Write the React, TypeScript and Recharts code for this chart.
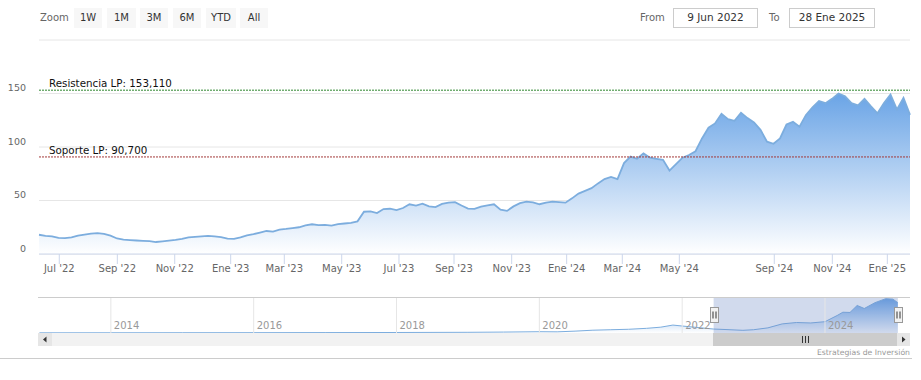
import React from "react"
import {
  AreaChart,
  Area,
  XAxis,
  YAxis,
  CartesianGrid,
  ReferenceLine,
  ReferenceArea,
} from "recharts"

const FONT = "'DejaVu Sans', Verdana, sans-serif"

// weekly closes, 9 Jun 2022 .. 28 Ene 2025 (ordinal axis, gap in summer 2024)
const prices = [
  18, 17, 16.5, 15, 14.8, 15.5, 17.2, 18.2, 19, 19.5,
  18.8, 17.2, 14.5, 13.5, 13, 12.6, 12.3, 12.1, 11.2, 11.8,
  12.5, 13.2, 14.2, 15.5, 16, 16.4, 16.9, 16.5, 15.8, 14.3,
  14.2, 15.5, 17.5, 18.6, 20, 21.5, 21, 22.8, 23.4, 24.2,
  25, 26.8, 27.8, 27, 27.2, 26.5, 28, 28.5, 29, 30.5,
  39.5, 39.8, 38.2, 42, 42.3, 41, 43, 46.5, 45.3, 47,
  44.5, 43.8, 46.8, 48, 48.5, 45.3, 42.5, 42.2, 44.2, 45.5,
  46.5, 41.5, 40.3, 44.5, 47.5, 49, 48.2, 46.5, 48, 49,
  48.5, 48, 52, 56.5, 59, 61.5, 66, 70, 72, 70,
  85, 91, 89, 94, 90, 89, 88, 78, 84, 90,
  92.5, 96, 108, 118, 122, 131, 126, 124.5, 132, 127,
  123, 116, 105, 103, 108, 121, 123.5, 119, 130, 137,
  143, 141, 145, 150, 147.5, 141, 139, 145, 138, 131.5,
  141, 149, 135, 146, 130,
]

// month ticks: position on the weekly index, and label
const tickIdx = [3.12, 12.05, 20.88, 29.49, 37.74, 46.57, 55.38, 63.85, 72.72, 81.18, 89.74, 98.51, 113.12, 122.05, 130.51]
const tickLabels = [
  "Jul '22", "Sep '22", "Nov '22", "Ene '23", "Mar '23", "May '23", "Jul '23", "Sep '23",
  "Nov '23", "Ene '24", "Mar '24", "May '24", "Sep '24", "Nov '24", "Ene '25",
]
const yTicks = [0, 50, 100, 150, 200]

const resistance = 153.11
const support = 90.7

// navigator: whole history
const navYears = [
  2013, 2014, 2015, 2016, 2017, 2018, 2019, 2019.5, 2020, 2020.25, 2020.5, 2020.75,
  2021, 2021.25, 2021.5, 2021.7, 2021.87, 2022, 2022.2, 2022.44, 2022.6, 2022.85,
  2023, 2023.2, 2023.4, 2023.6, 2023.8, 2024, 2024.17, 2024.25, 2024.35, 2024.45,
  2024.55, 2024.7, 2024.85, 2024.95, 2025.02,
]
const navPrices = [
  0.8, 1, 1.2, 1.4, 1.8, 2.2, 3, 4, 5.5, 5, 8, 12,
  14, 16, 20, 25, 34, 30, 24, 17, 15, 11.5,
  14, 22, 39, 45, 43, 48.5, 75, 89, 88, 118,
  105, 130, 147, 145, 130,
]
const yearTicks = [2014, 2016, 2018, 2020, 2022, 2024]
const selStart = 2022.44
const selEnd = 2025.02

const zoomButtons = ["1W", "1M", "3M", "6M", "YTD", "All"]
const rangeFrom = "9 Jun 2022"
const rangeTo = "28 Ene 2025"

const data = prices.map((v, i) => ({ i, v }))
const navData = navYears.map((y, k) => ({ y, v: navPrices[k] }))

const fmt = (n: number) => n.toFixed(3).replace(".", ",")

function YTick({ y, payload }: any) {
  if (payload.value === 200) return <g />
  return (
    <text x={26} y={y - 2.5} textAnchor="end" fontSize={9.5} fill="#666" fontFamily={FONT}>
      {payload.value}
    </text>
  )
}

const refLabel = (text: string) => (props: any) => {
  const vb = props.viewBox
  return (
    <text x={vb.x + 10} y={vb.y - 3} fontSize={10.3} fill="#111" fontFamily={FONT}>
      {text}
    </text>
  )
}

const yearLabel = (text: string) => (props: any) => {
  const vb = props.viewBox
  return (
    <text x={vb.x + 3} y={vb.y + vb.height - 4.5} fontSize={10} fill="#999" fontFamily={FONT}>
      {text}
    </text>
  )
}

const handle = (p: any) => {
  const x = Math.round(p.x1) + 0.5
  const yc = (p.y1 + p.y2) / 2
  return (
    <g>
      <rect x={x - 4} y={yc - 8} width={8} height={15} fill="#f2f2f2" stroke="#999" />
      <line x1={x - 1.5} x2={x - 1.5} y1={yc - 4} y2={yc + 3} stroke="#333" />
      <line x1={x + 1.5} x2={x + 1.5} y1={yc - 4} y2={yc + 3} stroke="#333" />
    </g>
  )
}

function Chrome() {
  const btnX = [74, 107, 140, 173, 206, 240]
  const btnW = [28, 29, 28, 28, 30, 28]
  return (
    <svg width={921} height={380} style={{ position: "absolute", left: 0, top: 0, pointerEvents: "none" }} fontFamily={FONT}>
      <text x={40} y={20.5} fontSize={10} fill="#666">Zoom</text>
      {zoomButtons.map((b, k) => (
        <g key={b}>
          <rect x={btnX[k]} y={8} width={btnW[k]} height={20} fill="#f7f7f7" />
          <text x={btnX[k] + btnW[k] / 2} y={20.5} fontSize={10} fill="#333" textAnchor="middle">{b}</text>
        </g>
      ))}
      <text x={640} y={20.5} fontSize={10} fill="#666">From</text>
      <rect x={673.5} y={8.5} width={84} height={19} fill="#fff" stroke="#ccc" />
      <text x={715.5} y={21} fontSize={10.5} fill="#333" textAnchor="middle">{rangeFrom}</text>
      <text x={769} y={20.5} fontSize={10} fill="#666">To</text>
      <rect x={789.5} y={8.5} width={85} height={19} fill="#fff" stroke="#ccc" />
      <text x={832} y={21} fontSize={10.5} fill="#333" textAnchor="middle">{rangeTo}</text>

      <line x1={38} x2={910} y1={297.5} y2={297.5} stroke="#ccc" />
      <rect x={38} y={333} width={872} height={13} fill="#f2f2f2" />
      <rect x={713} y={333} width={184} height={13} fill="#cccccc" />
      {[802.5, 805.5, 808.5].map((x) => (
        <line key={x} x1={x} x2={x} y1={336} y2={343} stroke="#333" />
      ))}
      <rect x={38} y={333} width={14} height={13} fill="#e6e6e6" />
      <path d="M46.5 336.5 L43 339.5 L46.5 342.5 Z" fill="#333" />
      <rect x={897} y={333} width={13} height={13} fill="#e6e6e6" />
      <path d="M902 336.5 L905.5 339.5 L902 342.5 Z" fill="#333" />

      <text x={910} y={354.5} fontSize={7.7} fill="#999" textAnchor="end">Estrategias de Inversión</text>
      <line x1={0} x2={912} y1={358.5} y2={358.5} stroke="#ccc" />
    </svg>
  )
}

export default function App() {
  return (
    <div
      style={{
        position: "absolute",
        left: 0,
        top: 0,
        width: 921,
        height: 380,
        background: "#fff",
        overflow: "hidden",
        fontFamily: FONT,
      }}
    >
      <div style={{ position: "absolute", left: 0, top: 0 }}>
        <AreaChart width={921} height={280} data={data} margin={{ top: 40, right: 11, bottom: 0, left: 0 }}>
          <defs>
            <linearGradient id="mainFill" x1="0" y1="0" x2="0" y2="1">
              <stop offset="0%" stopColor="#6aa4e6" />
              <stop offset="100%" stopColor="#ffffff" />
            </linearGradient>
          </defs>
          <CartesianGrid vertical={false} stroke="#e6e6e6" />
          <XAxis
            dataKey="i"
            type="number"
            domain={[0, prices.length - 1]}
            ticks={tickIdx}
            interval={0}
            tickFormatter={(t) => tickLabels[tickIdx.indexOf(t)]}
            tickSize={10}
            tickMargin={1}
            stroke="#ccd6eb"
            tick={{ fill: "#666", fontSize: 10, fontFamily: FONT }}
            height={26}
          />
          <YAxis domain={[0, 200]} ticks={yTicks} width={39} axisLine={false} tickLine={false} tick={<YTick />} />
          <Area
            dataKey="v"
            type="linear"
            stroke="#7cadde"
            strokeWidth={1.8}
            fill="url(#mainFill)"
            fillOpacity={1}
            dot={false}
            activeDot={false}
            isAnimationActive={false}
          />
          <ReferenceLine
            y={resistance}
            stroke="#2d862d"
            strokeDasharray="2 1"
            label={refLabel(`Resistencia LP: ${fmt(resistance)}`)}
          />
          <ReferenceLine
            y={support}
            stroke="#a33a3a"
            strokeDasharray="2 1"
            label={refLabel(`Soporte LP: ${fmt(support)}`)}
          />
        </AreaChart>
      </div>

      <div style={{ position: "absolute", left: 0, top: 297 }}>
        <AreaChart width={921} height={36} data={navData} margin={{ top: 1, right: 11, bottom: 0, left: 38 }}>
          <defs>
            <linearGradient id="navFill" x1="0" y1="0" x2="0" y2="1">
              <stop offset="0%" stopColor="#6aa4e6" />
              <stop offset="100%" stopColor="#ffffff" />
            </linearGradient>
          </defs>
          <XAxis dataKey="y" type="number" domain={[2012.98, 2025.19]} hide />
          <YAxis domain={[0, 150]} hide />
          {yearTicks.map((y) => (
            <ReferenceLine key={y} x={y} stroke="#e6e6e6" label={yearLabel(String(y))} />
          ))}
          <Area
            dataKey="v"
            type="linear"
            stroke="#7cadde"
            strokeWidth={1}
            fill="url(#navFill)"
            fillOpacity={1}
            dot={false}
            activeDot={false}
            isAnimationActive={false}
          />
          <ReferenceArea x1={selStart} x2={selEnd} fill="#6685c2" fillOpacity={0.3} stroke="none" />
          <ReferenceLine x={selStart} stroke="none" shape={handle} />
          <ReferenceLine x={selEnd} stroke="none" shape={handle} />
        </AreaChart>
      </div>

      <Chrome />
    </div>
  )
}
